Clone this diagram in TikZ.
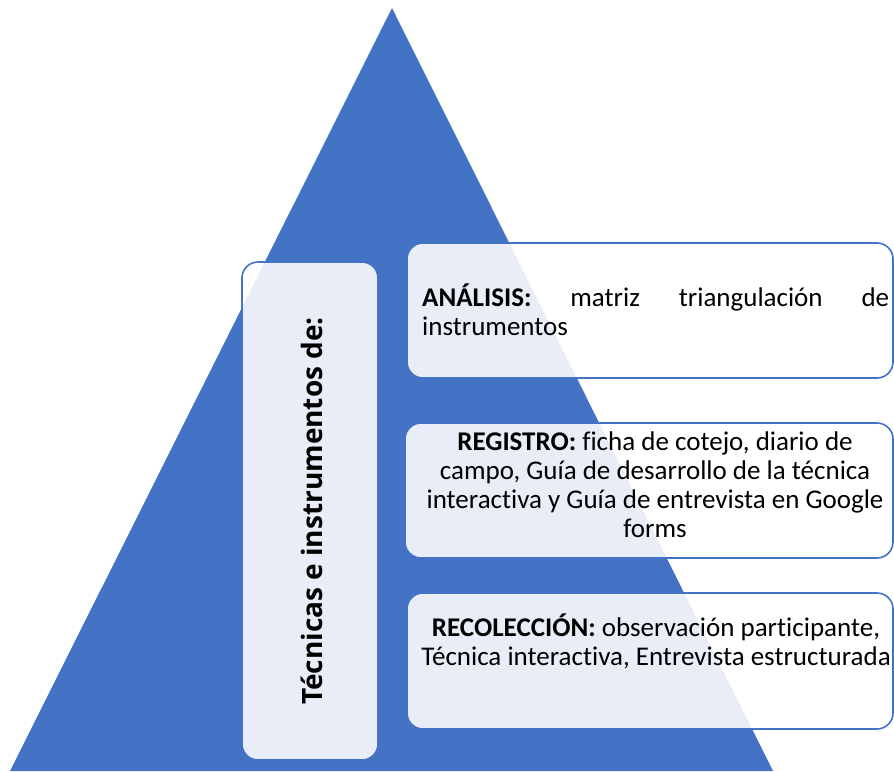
\documentclass[tikz,border=0pt]{standalone}
\usepackage{fontspec}
\setmainfont{Carlito}[Ligatures=NoCommon]
\newfontfamily\titlefont{Open Sans}
\definecolor{triblue}{HTML}{4472C4}
\begin{document}
\begin{tikzpicture}[x=1pt,y=-1pt,
  card/.style={draw=triblue, line width=1.6pt, fill=white, fill opacity=0.88, rounded corners=16pt},
  cardtext/.style={inner sep=0pt, text opacity=1, font=\fontsize{27}{29}\selectfont}]
\useasboundingbox (0,0) rectangle (894,771);
\fill[triblue] (392,8) -- (10,771) -- (773,771) -- cycle;
% vertical box
\draw[card] (242,262) rectangle (378,760);
\node[rotate=90, inner sep=0pt, font=\titlefont\fontsize{28}{34}\selectfont\bfseries] (title) at (312,511) {Técnicas e instrumentos de:};
% boxes
\draw[card] (407,243) rectangle (893,378);
\draw[card] (405,423) rectangle (893,558);
\draw[card] (407,593) rectangle (893,729);
\node[cardtext, text width=467pt, align=justify, anchor=north west] (ana) at (422,284)
  {\textbf{ANÁLISIS:}\hfill matriz\hfill triangulación\hfill de\\instrumentos};
\node[cardtext, align=center, anchor=north] (reg) at (655,432)
  {\textbf{REGISTRO:} ficha de cotejo, diario de\\campo, Guía de desarrollo de la técnica\\interactiva y Guía de entrevista en Google\\forms};
\node[cardtext, align=center, anchor=north] (rec) at (656,614)
  {\textbf{RECOLECCIÓN:} observación participante,\\Técnica interactiva, Entrevista estructurada};
\end{tikzpicture}
\end{document}
